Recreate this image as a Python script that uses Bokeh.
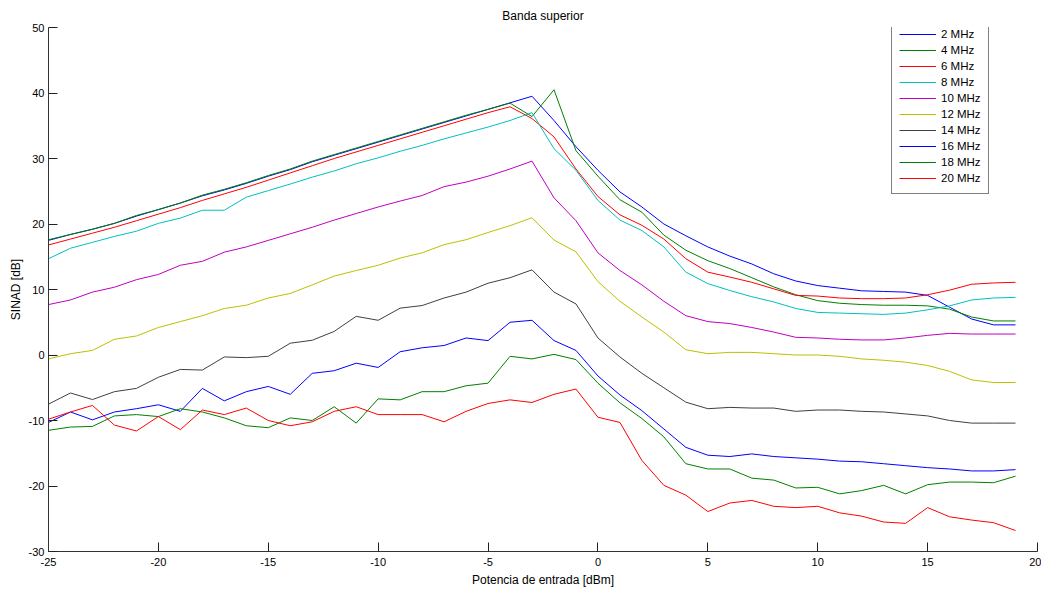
from bokeh.plotting import figure
from bokeh.models import Legend, LegendItem, Range1d, FixedTicker
from bokeh.embed import file_html
from bokeh.resources import INLINE

x = list(range(-25, 20))

labels = ["2 MHz", "4 MHz", "6 MHz", "8 MHz", "10 MHz",
          "12 MHz", "14 MHz", "16 MHz", "18 MHz", "20 MHz"]

s2 = [17.5, 18.4, 19.2, 20.1, 21.2, 22.2, 23.2, 24.3, 25.2, 26.2, 27.3, 28.3, 29.5, 30.5, 31.5,
      32.5, 33.5, 34.5, 35.5, 36.5, 37.5, 38.5,
      39.5, 35.8, 31.8, 28.2, 24.9, 22.6, 20.0, 18.2, 16.5, 15.1, 13.9, 12.4, 11.3, 10.6, 10.2,
      9.8, 9.7, 9.6, 9.1, 7.3, 5.5, 4.6, 4.6]
s4 = [17.6, 18.4, 19.2, 20.1, 21.3, 22.2, 23.2, 24.4, 25.3, 26.3, 27.4, 28.4, 29.6, 30.6, 31.6,
      32.6, 33.6, 34.6, 35.6, 36.6, 37.5, 38.45,
      36.4, 40.5, 31.2, 27.3, 23.7, 21.8, 18.3, 16.0, 14.4, 13.2, 11.8, 10.4, 9.2, 8.3, 7.9,
      7.7, 7.6, 7.6, 7.5, 7.0, 5.8, 5.2, 5.2]
s6 = [16.8, 17.7, 18.6, 19.5, 20.5, 21.5, 22.5, 23.6, 24.6, 25.6, 26.7, 27.8, 28.9, 30.0, 31.0,
      32.0, 33.0, 34.0, 35.0, 36.0, 37.0, 37.9,
      36.1, 33.3, 28.4, 24.2, 21.4, 19.8, 17.7, 14.7, 12.65, 11.9, 11.1, 10.1, 9.1, 9.0, 8.7,
      8.6, 8.6, 8.7, 9.2, 9.9, 10.8, 11.0, 11.1]
s8 = [14.7, 16.3, 17.2, 18.1, 18.9, 20.1, 20.9, 22.1, 22.1, 24.1, 25.1, 26.1, 27.15, 28.1, 29.2,
      30.1, 31.1, 32.0, 33.0, 33.9, 34.8, 35.8, 37.0,
      31.5, 28.2, 23.6, 20.6, 19.0, 16.5, 12.65, 10.9, 9.85, 8.9, 8.1, 7.1, 6.5, 6.4, 6.3,
      6.2, 6.4, 6.9, 7.5, 8.4, 8.7, 8.8]
s10 = [7.7, 8.4, 9.6, 10.35, 11.5, 12.3, 13.7, 14.3, 15.7, 16.5, 17.5, 18.5, 19.5, 20.6, 21.6,
       22.6, 23.5, 24.35, 25.7, 26.4, 27.3, 28.4, 29.6,
       24.0, 20.5, 15.6, 12.9, 10.7, 8.2, 6.0, 5.1, 4.8, 4.2, 3.5, 2.7, 2.6, 2.4, 2.3,
       2.3, 2.6, 3.0, 3.3, 3.2, 3.2, 3.2]
s12 = [-0.6, 0.2, 0.7, 2.4, 2.9, 4.2, 5.1, 6.0, 7.1, 7.6, 8.7, 9.4, 10.7, 12.05, 12.9,
       13.7, 14.8, 15.6, 16.85, 17.6, 18.7, 19.75, 20.95,
       17.55, 15.75, 11.2, 8.2, 5.8, 3.5, 0.8, 0.2, 0.4, 0.4, 0.2, 0.0, 0.0, -0.2, -0.6,
       -0.8, -1.1, -1.6, -2.5, -3.8, -4.2, -4.2]
s14 = [-7.5, -5.8, -6.8, -5.6, -5.1, -3.4, -2.2, -2.3, -0.3, -0.4, -0.2, 1.8, 2.25, 3.6, 5.9,
       5.3, 7.15, 7.55, 8.7, 9.6, 10.96, 11.8, 13.0,
       9.6, 7.8, 2.6, -0.3, -2.8, -5.0, -7.2, -8.2, -8.0, -8.1, -8.1, -8.6, -8.4, -8.4, -8.6,
       -8.7, -9.0, -9.3, -10.0, -10.4, -10.4, -10.4]
s16 = [-10.3, -8.7, -9.9, -8.7, -8.2, -7.6, -8.6, -5.1, -7.0, -5.6, -4.8, -6.0, -2.8, -2.4, -1.25,
       -1.9, 0.5, 1.1, 1.45, 2.6, 2.2, 5.0, 5.3,
       2.2, 0.7, -3.2, -6.1, -8.5, -11.3, -14.1, -15.3, -15.5, -15.1, -15.5, -15.7, -15.9, -16.2, -16.3,
       -16.6, -16.9, -17.2, -17.4, -17.7, -17.7, -17.5]
s18 = [-11.5, -11.0, -10.9, -9.3, -9.1, -9.4, -8.2, -8.7, -9.6, -10.8, -11.1, -9.6, -10.0, -7.9, -10.4,
       -6.7, -6.85, -5.6, -5.6, -4.7, -4.3, -0.2, -0.6,
       0.1, -0.7, -4.3, -7.3, -9.7, -12.5, -16.6, -17.4, -17.4, -18.8, -19.1, -20.3, -20.2, -21.2, -20.7,
       -19.9, -21.2, -19.8, -19.4, -19.4, -19.5, -18.5]
s20 = [-9.8, -8.7, -7.7, -10.7, -11.6, -9.4, -11.4, -8.4, -9.1, -8.1, -10.0, -10.8, -10.2, -8.6, -7.9,
       -9.1, -9.1, -9.1, -10.2, -8.6, -7.4, -6.85, -7.25,
       -6.0, -5.2, -9.5, -10.3, -16.1, -19.9, -21.4, -23.9, -22.6, -22.2, -23.1, -23.3, -23.1, -24.1, -24.6,
       -25.5, -25.7, -23.3, -24.7, -25.2, -25.6, -26.8]

series = [s2, s4, s6, s8, s10, s12, s14, s16, s18, s20]
colors = ["#0000ff", "#008000", "#ff0000", "#00bfbf", "#bf00bf",
          "#bfbf00", "#404040", "#0000ff", "#008000", "#ff0000"]

x_ticks = [-25, -20, -15, -10, -5, 0, 5, 10, 15, 20]
y_ticks = [-30, -20, -10, 0, 10, 20, 30, 40, 50]

FONT = "Liberation Sans"

p = figure(width=1041, height=591,
           x_range=Range1d(-25, 20), y_range=Range1d(-30, 50),
           output_backend="svg", toolbar_location=None,
           min_border_left=48, min_border_top=27, min_border_right=4, min_border_bottom=40,
           title="Banda superior")

p.title.align = "center"
p.title.text_font = FONT
p.title.text_font_size = "12px"
p.title.text_font_style = "normal"
p.title.text_color = "#000000"
p.title.standoff = 9
p.title.offset = 0

p.outline_line_color = None
p.xgrid.visible = False
p.ygrid.visible = False
p.background_fill_color = "white"
p.border_fill_color = "white"

p.xaxis.ticker = FixedTicker(ticks=x_ticks)
p.yaxis.ticker = FixedTicker(ticks=y_ticks)
p.xaxis.major_label_overrides = {t: str(t) for t in x_ticks}
p.yaxis.major_label_overrides = {t: str(t) for t in y_ticks}
for ax in (p.xaxis[0], p.yaxis[0]):
    ax.major_tick_in = 9
    ax.major_tick_out = 0
    ax.minor_tick_in = 0
    ax.minor_tick_out = 0
    ax.axis_line_color = "#333333"
    ax.major_tick_line_color = "#222222"
    ax.major_label_text_font = FONT
    ax.major_label_text_font_size = "11px"
    ax.major_label_text_color = "#000000"
    ax.axis_label_text_font = FONT
    ax.axis_label_text_font_size = "12px"
    ax.axis_label_text_font_style = "normal"
    ax.axis_label_text_color = "#000000"

p.xaxis.axis_label = "Potencia de entrada [dBm]"
p.yaxis.axis_label = "SINAD [dB]"
p.xaxis.major_label_standoff = 6
p.xaxis.axis_label_standoff = 4
p.yaxis.major_label_standoff = 4
p.yaxis.axis_label_standoff = 3

items = []
for lab, ys, c in zip(labels, series, colors):
    r = p.line(x, ys, line_color=c, line_width=1)
    items.append(LegendItem(label=lab, renderers=[r]))

legend = Legend(items=items, location=(843, 357))
legend.border_line_color = "#000000"
legend.border_line_width = 1
legend.background_fill_color = "white"
legend.background_fill_alpha = 1.0
legend.padding = 7
legend.spacing = 0
legend.margin = 0
legend.glyph_height = 16
legend.glyph_width = 37
legend.label_height = 16
legend.label_standoff = 5
legend.label_text_font = FONT
legend.label_text_font_size = "11.5px"
legend.label_text_color = "#000000"
p.add_layout(legend)

open("out.html", "w").write(file_html(p, INLINE))
